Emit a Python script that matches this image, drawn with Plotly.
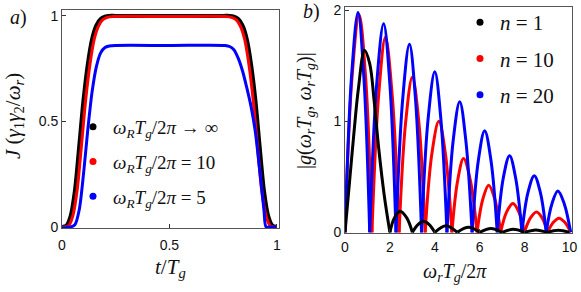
import plotly.graph_objects as go

# ---------------- panel a) data ----------------
t_black = [0, 0.02, 0.04, 0.06, 0.08, 0.10, 0.12, 0.14, 0.16, 0.18, 0.20, 0.22, 0.25, 0.5,
           0.75, 0.78, 0.80, 0.82, 0.84, 0.86, 0.88, 0.90, 0.92, 0.94, 0.96, 0.98, 1.0]
J_black = [0, 0.005, 0.05, 0.17, 0.38, 0.60, 0.77, 0.89, 0.955, 0.985, 0.996, 1.0, 1.0, 1.0,
           1.0, 1.0, 0.996, 0.985, 0.955, 0.89, 0.77, 0.60, 0.38, 0.17, 0.05, 0.005, 0]

t_red = [0, 0.03, 0.05, 0.07, 0.09, 0.11, 0.13, 0.15, 0.17, 0.19, 0.21, 0.24, 0.5,
         0.76, 0.79, 0.81, 0.83, 0.85, 0.87, 0.89, 0.91, 0.93, 0.95, 0.97, 1.0]
J_red = [0, 0.005, 0.05, 0.17, 0.38, 0.60, 0.77, 0.89, 0.952, 0.982, 0.993, 0.997, 0.997,
         0.997, 0.993, 0.982, 0.952, 0.89, 0.77, 0.60, 0.38, 0.17, 0.05, 0.005, 0]

t_blue = [0, 0.04, 0.06, 0.08, 0.10, 0.12, 0.14, 0.16, 0.18, 0.20, 0.22, 0.25, 0.5,
          0.76, 0.78, 0.80, 0.82, 0.84, 0.86, 0.88, 0.90, 0.92, 0.94, 0.95, 0.97, 1.0]
J_blue = [0, 0.0, 0.01, 0.08, 0.25, 0.46, 0.64, 0.76, 0.825, 0.85, 0.857, 0.86, 0.86,
          0.86, 0.855, 0.84, 0.80, 0.74, 0.66, 0.57, 0.45, 0.27, 0.08, 0.0, 0.0, 0.0]

legend_a = ["<i>ω<sub>R</sub>T<sub>g</sub></i>/2<i>π</i> → ∞",
            "<i>ω<sub>R</sub>T<sub>g</sub></i>/2<i>π</i> = 10",
            "<i>ω<sub>R</sub>T<sub>g</sub></i>/2<i>π</i> = 5"]

# ---------------- panel b) data (lobes separated by None) ----------------
x_n1 = [0, 0.2, 0.4, 0.6, 0.87, 1.1, 1.3, 1.5, 1.75, 2.0, None,
        2.0, 2.2, 2.45, 2.75, 3.0, None,
        3.0, 3.25, 3.5, 3.75, 4.0, None,
        4.0, 4.5, 5.0, None, 5.0, 5.5, 6.0, None, 6.0, 6.5, 7.0, None,
        7.0, 7.5, 8.0, None, 8.0, 8.5, 9.0, None, 9.0, 9.5, 10.0]
y_n1 = [0, 0.45, 0.9, 1.3, 1.64, 1.52, 1.18, 0.76, 0.33, 0, None,
        0, 0.13, 0.19, 0.13, 0, None,
        0, 0.07, 0.10, 0.07, 0, None,
        0, 0.06, 0, None, 0, 0.045, 0, None, 0, 0.035, 0, None,
        0, 0.028, 0, None, 0, 0.022, 0, None, 0, 0.018, 0]

x_n10 = [0, 0.31, 0.63, 0.92, 1.2, None,
         1.2, 1.5, 1.8, 2.1, 2.41, None,
         2.41, 2.7, 3.0, 3.29, 3.57, None,
         3.57, 3.87, 4.18, 4.47, 4.76, None,
         4.76, 5.02, 5.28, 5.58, 5.88, None,
         5.88, 6.14, 6.4, 6.67, 6.93, None,
         6.93, 7.2, 7.48, 7.74, 7.99, None,
         7.99, 8.26, 8.53, 8.78, 9.02, None,
         9.02, 9.28, 9.53, 9.79, 10.05]
y_n10 = [0, 1.39, 1.96, 1.39, 0, None,
         0, 1.24, 1.757, 1.24, 0, None,
         0, 0.99, 1.40, 0.99, 0, None,
         0, 0.71, 1.0, 0.71, 0, None,
         0, 0.47, 0.665, 0.47, 0, None,
         0, 0.30, 0.425, 0.30, 0, None,
         0, 0.185, 0.26, 0.185, 0, None,
         0, 0.13, 0.183, 0.13, 0, None,
         0, 0.09, 0.128, 0.09, 0]

x_n20 = [0, 0.29, 0.58, 0.84, 1.1, None,
         1.1, 1.41, 1.72, 2.0, 2.27, None,
         2.27, 2.57, 2.87, 3.14, 3.41, None,
         3.41, 3.70, 4.0, 4.27, 4.54, None,
         4.54, 4.82, 5.11, 5.38, 5.66, None,
         5.66, 5.94, 6.22, 6.50, 6.78, None,
         6.78, 7.05, 7.33, 7.60, 7.88, None,
         7.88, 8.15, 8.43, 8.70, 8.96, None,
         8.96, 9.22, 9.48, 9.76, 10.05]
y_n20 = [0, 1.40, 1.98, 1.40, 0, None,
         0, 1.33, 1.88, 1.33, 0, None,
         0, 1.20, 1.695, 1.20, 0, None,
         0, 1.02, 1.447, 1.02, 0, None,
         0, 0.83, 1.177, 0.83, 0, None,
         0, 0.65, 0.915, 0.65, 0, None,
         0, 0.49, 0.69, 0.49, 0, None,
         0, 0.36, 0.51, 0.36, 0, None,
         0, 0.26, 0.372, 0.26, 0]

legend_b = ["<i>n</i> = 1", "<i>n</i> = 10", "<i>n</i> = 20"]

colors = ["#000000", "#ff0000", "#0000ff"]

W, H = 581, 292
SERIF = "Liberation Serif"
SANS = "Liberation Sans"

fig = go.Figure()

# panel a lines
for (tx, jy, c, w) in [(t_black, J_black, colors[0], 4.0),
                       (t_red, J_red, colors[1], 3.0),
                       (t_blue, J_blue, colors[2], 3.0)]:
    fig.add_trace(go.Scatter(x=tx, y=jy, mode="lines", line=dict(color=c, width=w, shape="spline", smoothing=0.8),
                             showlegend=False, xaxis="x", yaxis="y", hoverinfo="skip"))

# panel b lines
for (xx, yy, c) in [(x_n10, y_n10, colors[1]), (x_n20, y_n20, colors[2]), (x_n1, y_n1, colors[0])]:
    fig.add_trace(go.Scatter(x=xx, y=yy, mode="lines", line=dict(color=c, width=3, shape="spline", smoothing=1),
                             connectgaps=False, showlegend=False, xaxis="x2", yaxis="y2", hoverinfo="skip"))

# legend entries (dots)
for i, name in enumerate(legend_a):
    fig.add_trace(go.Scatter(x=[None], y=[None], mode="markers", marker=dict(color=colors[i], size=7),
                             name=name, legend="legend", legendgroup="a%d" % i, xaxis="x", yaxis="y"))
for i, name in enumerate(legend_b):
    fig.add_trace(go.Scatter(x=[None], y=[None], mode="markers", marker=dict(color=colors[i], size=7),
                             name=name, legend="legend2", legendgroup="b%d" % i, xaxis="x2", yaxis="y2"))

def px_x(p):
    return p / W

def px_y(p):
    return 1 - p / H

axis_common = dict(showline=True, linecolor="#555555", linewidth=1, mirror=True,
                   ticks="inside", ticklen=4, tickcolor="#333333", showgrid=False, zeroline=False,
                   tickfont=dict(family=SANS, size=14, color="#111111"))

fig.update_layout(
    width=W, height=H,
    margin=dict(l=0, r=0, t=0, b=0, autoexpand=False),
    paper_bgcolor="white", plot_bgcolor="white",
    xaxis=dict(domain=[px_x(62), px_x(279)], range=[0, 1.01], tickvals=[0, 0.5, 1],
               ticktext=["0", "0.5", "1"], anchor="y", ticklabelstandoff=4, **axis_common),
    yaxis=dict(domain=[px_y(228), px_y(10)], range=[-0.005, 1.028], tickvals=[0, 0.5, 1],
               ticktext=["0", "0.5", "1"], anchor="x", **axis_common),
    xaxis2=dict(domain=[px_x(345), px_x(572)], range=[0, 10.11], tickvals=[0, 2, 4, 6, 8, 10],
                anchor="y2", ticklabelstandoff=1, **axis_common),
    yaxis2=dict(domain=[px_y(233), px_y(7)], range=[-0.006, 2.03], tickvals=[0, 1, 2],
                anchor="x2", **axis_common),
    legend=dict(x=px_x(73), y=px_y(108), xanchor="left", yanchor="top", bgcolor="rgba(0,0,0,0)",
                font=dict(family=SERIF, size=19, color="#111111"), tracegroupgap=7,
                itemwidth=30),
    legend2=dict(x=px_x(460), y=px_y(2), xanchor="left", yanchor="top", bgcolor="rgba(0,0,0,0)",
                 font=dict(family=SERIF, size=21, color="#111111"), tracegroupgap=6,
                 itemwidth=30),
)

ann_font = dict(family=SERIF, size=20, color="#111111")

def add_text(text, x, y, angle=0, size=20):
    fig.add_annotation(text=text, x=px_x(x), y=px_y(y), xref="paper", yref="paper",
                       xanchor="center", yanchor="middle", showarrow=False,
                       textangle=angle, font=dict(family=SERIF, size=size, color="#111111"))

add_text("<i>t</i>/<i>T<sub>g</sub></i>", 170, 268, size=21)
add_text("<i>ω<sub>r</sub>T<sub>g</sub></i>/2<i>π</i>", 455, 272)
add_text("<i>J</i> (<i>γ</i><sub>1</sub><i>γ</i><sub>2</sub>/<i>ω<sub>r</sub></i>)", 14, 116, -90, size=21)
add_text("|<i>g</i>(<i>ω<sub>r</sub>T<sub>g</sub></i>, <i>ω<sub>r</sub>T<sub>g</sub></i>)|", 305, 111, -90)
add_text("<i>a</i>)", 18, 17)
add_text("<i>b</i>)", 311, 12)

fig.write_html("out.html", config={"displayModeBar": False},
               post_script="document.body.style.margin='0px';document.body.style.overflow='hidden';")
